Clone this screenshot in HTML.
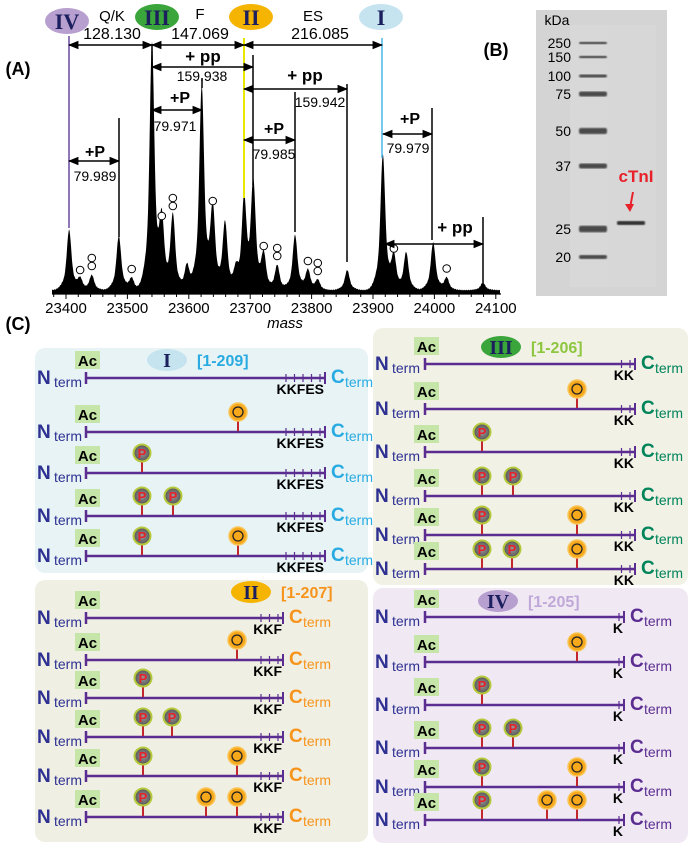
<!DOCTYPE html>
<html><head><meta charset="utf-8"><style>
html,body{margin:0;padding:0;background:#fff;}
svg{display:block;font-family:"Liberation Sans",sans-serif;}
</style></head><body>
<svg id="fig" width="695" height="850" viewBox="0 0 695 850">
<defs>
<marker id="ah" viewBox="0 0 10 10" refX="9" refY="5" markerWidth="7" markerHeight="7" orient="auto-start-reverse"><path d="M0,1 L10,5 L0,9 z" fill="#000"/></marker>
<radialGradient id="pg" cx="50%" cy="50%" r="50%"><stop offset="0%" stop-color="#999"/><stop offset="100%" stop-color="#555"/></radialGradient>
<filter id="blur1"><feGaussianBlur stdDeviation="0.8"/></filter>
</defs>
<g id="panelA"></g>
<g id="panelB"></g>
<g id="panelC"></g>
</svg>
<script>
// ---- Chart data (panel A) ----
const peakMasses = [23405,23423,23442,23486,23507,23540,23556,23574,23597,23621,23639,23659,23677,23690,23705,23722,23744,23773,23794,23810,23858,23916,23934,23954,23998,24020,24079];
const peakIntensity = [24,4.4,6,21.6,4.8,98,26,30,10,81,32,27,7,35,42,14,10,22,8,4,8,54,13,15,19,5,3];
const tickValues = [23400,23500,23600,23700,23800,23900,24000,24100];
const tickLabels = ["23400","23500","23600","23700","23800","23900","24000","24100"];
const oxMasses = [23423,23442,23442,23507,23556,23574,23574,23639,23722,23744,23744,23794,23810,23810,23934,24020];
const oxStack = [0,0,1,0,0,0,1,0,0,0,1,0,0,1,0,0];

const NS="http://www.w3.org/2000/svg";
function mk(tag,attrs,parent,text){const e=document.createElementNS(NS,tag);for(const k in attrs)e.setAttribute(k,attrs[k]);if(text!==undefined)e.textContent=text;parent.appendChild(e);return e;}
const xS=m=>66+(m-23400)*0.614;
const yS=v=>293-v*2.5;
const A=document.getElementById('panelA');

// spectrum path
let d="M52,293.5";
for(let x=52;x<=500;x+=0.5){
  let s=0;
  for(let i=0;i<peakMasses.length;i++){const dx=x-xS(peakMasses[i]);
    s+=peakIntensity[i]*(0.72*Math.exp(-dx*dx/(2*2.0*2.0))+0.28*Math.exp(-dx*dx/(2*5.5*5.5)));}
  s+=0.9+0.4*Math.abs(Math.sin(x*1.7));
  d+=" L"+x+","+yS(s).toFixed(2);
}
d+=" L500,293.5 Z";
const sp=mk('path',{d:d,fill:'#000'},A);



// axis
const ax=mk('line',{x1:52,y1:294,x2:501,y2:294,stroke:'#000','stroke-width':1.2},A);


for(let m=23380;m<=24100;m+=20){mk('line',{x1:xS(m),y1:294,x2:xS(m),y2:m%100===0?299:297,stroke:'#000','stroke-width':1},A);}
tickValues.forEach((v,i)=>{const t=mk('text',{x:xS(v),y:313,'font-size':15,'text-anchor':'middle'},A,tickLabels[i]);

});
const xt=mk('text',{x:285,y:328,'font-size':15,'font-style':'italic','text-anchor':'middle'},A,'mass');



// oxidation circles
oxMasses.forEach((m,i)=>{const c=mk('circle',{cx:xS(m),cy:yS(peakIntensity[peakMasses.indexOf(m)])-12-oxStack[i]*8,r:3.8,fill:'#fff',stroke:'#000','stroke-width':1},A);

});

// annotations
function ln(x1,y1,x2,y2,c,w){return mk('line',{x1,y1,x2,y2,stroke:c||'#000','stroke-width':w||1.5},A);}
function arr(x1,x2,y){return mk('line',{x1,y1:y,x2,y2:y,stroke:'#000','stroke-width':1.5,'marker-start':'url(#ah)','marker-end':'url(#ah)'},A);}
function tx(x,y,s,size,bold,anchor){return mk('text',{x,y,'font-size':size||15,'font-weight':bold?'bold':'normal','text-anchor':anchor||'middle'},A,s);}
ln(69,36,69,228,'#6b4aa0',1.5);
ln(152,44,152,60,'#000',1.5);
ln(244,38,244,198,'#e8e800',2);
ln(382,38,382,158,'#4ab8e8',1.5);
ln(253,55,253,185);ln(347,84,347,262);ln(295,92,295,232);ln(202,78,202,88);
ln(119,118,119,237);ln(432,108,432,240);ln(483,217,483,283);
arr(69,152,45);arr(152,244,45);arr(244,382,45);
arr(152,253,67);arr(152,202,110);arr(244,347,89);arr(244,295,140);arr(69,119,161);arr(383,432,134);arr(385,483,244);
tx(112,21,'Q/K');tx(112,39,'128.130',16);
tx(200,19,'F');tx(200,39,'147.069',16);
tx(313,21,'ES');tx(320,39,'216.085',16);
tx(203,62,'+ pp',17,true);tx(202,81,'159.938',14);
tx(180,103,'+P',16,true);tx(175,131,'79.971',14);
tx(305,81,'+ pp',17,true);tx(320,107,'159.942',14);
tx(274,134,'+P',16,true);tx(274,159,'79.985',14);
tx(95,157,'+P',16,true);tx(95,181,'79.989',14);
tx(410,124,'+P',16,true);tx(408,153,'79.979',14);
tx(455,233,'+ pp',17,true);
function ell(cx,cy,fill,label,rx,ry,fs){const g=mk('g',{},A);mk('ellipse',{cx,cy,rx:rx||22,ry:ry||13,fill},g);mk('text',{x:cx,y:cy+(fs||22)*0.36,'font-size':fs||22,'font-family':'Liberation Serif, serif','font-weight':'bold','text-anchor':'middle',fill:'#1b1f5e'},g,label);return g;}
ell(67,21,'#b79fd0','IV');ell(157,17,'#3aa53a','III');ell(251,17,'#f5b400','II');ell(381,17,'#c6e3f0','I');
tx(18,75,'(A)',18,true);tx(496,56,'(B)',18,true);tx(18,330,'(C)',18,true);

// ---- Panel B gel ----
const B=document.getElementById('panelB');
mk('rect',{x:536,y:10,width:131,height:286,fill:'#d4d4d4'},B);
mk('rect',{x:570,y:25,width:45,height:262,fill:'#d8d8d8'},B);
mk('rect',{x:608,y:25,width:48,height:262,fill:'#d7d7d7'},B);
const ladder=[['250',43,2.5],['150',57,2.5],['100',76,3],['75',94,5],['50',131,6],['37',166,5],['25',229,6.5],['20',257,4]];
mk('text',{x:557,y:25,'font-size':14,'text-anchor':'middle'},B,'kDa');
ladder.forEach(l=>{mk('text',{x:571,y:l[1]+5,'font-size':14,'text-anchor':'end'},B,l[0]);
mk('rect',{x:579,y:l[1]-l[2]/2,width:28,height:l[2],rx:2,fill:'#333',opacity:0.85,filter:'url(#blur1)'},B);});
mk('rect',{x:617,y:221,width:28,height:4,rx:1.5,fill:'#333',filter:'url(#blur1)'},B);
mk('text',{x:636,y:182,'font-size':17,'font-weight':'bold',fill:'#e8202a','text-anchor':'middle'},B,'cTnI');
mk('line',{x1:633,y1:192,x2:630,y2:208,stroke:'#e8202a','stroke-width':2},B);
mk('path',{d:'M625,204 L630,212 L634,204 z',fill:'#e8202a'},B);

// ---- Panel C ----
const C=document.getElementById('panelC');
const panels=[
 {name:'I',box:[35,348,333,225],bg:'#e7f3f4',x0:86,x1:325,ell:[167,360,'#c6e3f0'],range:'[1-209]',rc:'#29abe2',cc:'#29abe2',res:'KKFES',rows:[378,432,473,516,556],mods:[[],[['O',238]],[['P',142]],[['P',142],['P',173]],[['P',142],['O',238]]]},
 {name:'III',box:[373,328,315,257],bg:'#f1f1e6',x0:425,x1:635,ell:[501,347,'#3aa53a'],range:'[1-206]',rc:'#8dc63f',cc:'#00845a',res:'KK',rows:[364,409,452,496,535,569],mods:[[],[['O',577]],[['P',482]],[['P',482],['P',513]],[['P',482],['O',577]],[['P',482],['P',512],['O',577]]]},
 {name:'II',box:[35,580,333,262],bg:'#f0efe3',x0:86,x1:283,ell:[251,592,'#f5b400'],range:'[1-207]',rc:'#f7941d',cc:'#f7941d',res:'KKF',rows:[618,660,698,737,776,817],mods:[[],[['O',237]],[['P',143]],[['P',143],['P',172]],[['P',143],['O',237]],[['P',143],['O',206],['O',237]]]},
 {name:'IV',box:[373,588,315,255],bg:'#f0e9f4',x0:425,x1:624,ell:[498,601,'#b79fd0'],range:'[1-205]',rc:'#c0a8d8',cc:'#5b2d91',res:'K',rows:[617,662,705,748,787,820],mods:[[],[['O',577]],[['P',482]],[['P',482],['P',513]],[['P',482],['O',577]],[['P',482],['O',547],['O',577]]]}
];
panels.forEach(p=>{
 const g=mk('g',{},C);
 
 
 mk('rect',{x:p.box[0],y:p.box[1],width:p.box[2],height:p.box[3],rx:10,fill:p.bg},g);
 const eg=mk('g',{},g);
 mk('ellipse',{cx:p.ell[0],cy:p.ell[1],rx:20,ry:11,fill:p.ell[2]},eg);
 mk('text',{x:p.ell[0],y:p.ell[1]+7,'font-size':20,'font-family':'Liberation Serif, serif','font-weight':'bold','text-anchor':'middle',fill:'#1b1f5e'},eg,p.name);
 mk('text',{x:p.ell[0]+30,y:p.ell[1]+6,'font-size':16,'font-weight':'bold',fill:p.rc},g,p.range);
 p.rows.forEach((y,ri)=>{
  const r=mk('g',{},g);
  
  
  mk('rect',{x:p.x0-11,y:y-27,width:25,height:18,fill:'#c6e5a8'},r);
  mk('text',{x:p.x0+1.5,y:y-12,'font-size':15,'font-weight':'bold','text-anchor':'middle'},r,'Ac');
  mk('text',{x:p.box[0]+2,y:y+6,'font-size':19,'font-weight':'bold',fill:'#2e3192'},r,'N');
  mk('text',{x:p.box[0]+19,y:y+9,'font-size':14,fill:'#2e3192'},r,'term');
  mk('line',{x1:p.x0,y1:y,x2:p.x1,y2:y,stroke:'#5b2d91','stroke-width':2.5},r);
  mk('line',{x1:p.x0,y1:y-6,x2:p.x0,y2:y+6,stroke:'#5b2d91','stroke-width':2.5},r);
  mk('line',{x1:p.x1,y1:y-6,x2:p.x1,y2:y+6,stroke:'#5b2d91','stroke-width':2},r);
  const n=p.res.length;
  for(let k=0;k<n;k++){const tx=p.x1-5-(n-1-k)*8.5;mk('line',{x1:tx,y1:y-4,x2:tx,y2:y+4,stroke:'#5b2d91','stroke-width':1.2},r);}
  mk('text',{x:p.x1-1,y:y+16,'font-size':14,'font-weight':'bold','text-anchor':'end'},r,p.res);
  mk('text',{x:p.x1+6,y:y+5,'font-size':19,'font-weight':'bold',fill:p.cc},r,'C');
  mk('text',{x:p.x1+20,y:y+9,'font-size':14,fill:p.cc},r,'term');
  p.mods[ri].forEach(m=>{
   const mg=mk('g',{},r);
   
   
   mk('line',{x1:m[1],y1:y-11,x2:m[1],y2:y-1,stroke:'#c1272d','stroke-width':2},mg);
   if(m[0]==='P'){
    mk('circle',{cx:m[1],cy:y-20,r:8.5,fill:'url(#pg)',stroke:'#b5c93a','stroke-width':2},mg);
    mk('text',{x:m[1],y:y-15,'font-size':13,'font-weight':'bold',fill:'#e8202a','text-anchor':'middle'},mg,'P');
   }else{
    mk('circle',{cx:m[1],cy:y-20,r:9,fill:'#f7a81b',stroke:'#f9c65a','stroke-width':1.5},mg);
    mk('circle',{cx:m[1],cy:y-20,r:5,fill:'none',stroke:'#222','stroke-width':1.3},mg);
   }
  });
 });
});
</script>
</body></html>
